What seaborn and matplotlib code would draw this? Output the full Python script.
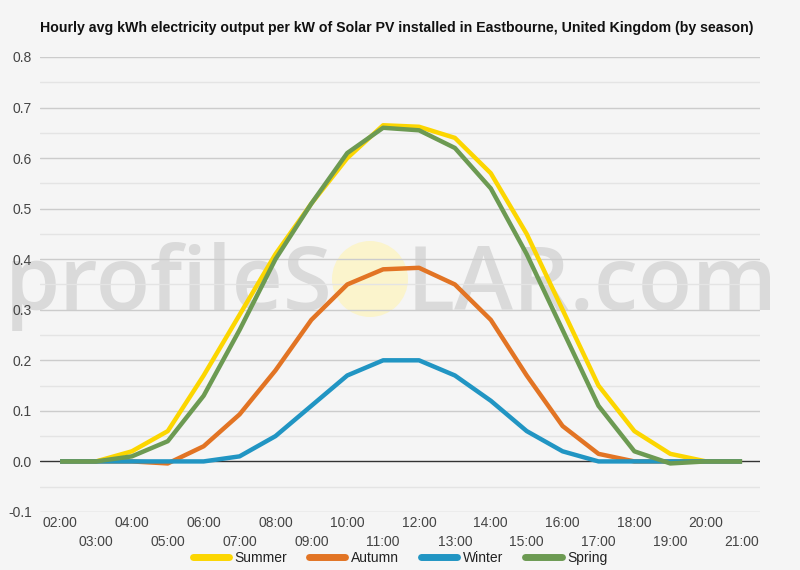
import numpy as np
import pandas as pd
import matplotlib
matplotlib.use('Agg')
import matplotlib.pyplot as plt
import seaborn as sns
from matplotlib.patches import Ellipse

hours = list(range(2, 22))
hour_labels = [f'{h:02d}:00' for h in hours]

summer = [0.0, 0.0, 0.02, 0.06, 0.17, 0.29, 0.41, 0.51, 0.60, 0.665,
          0.662, 0.64, 0.57, 0.45, 0.30, 0.15, 0.06, 0.015, 0.0, 0.0]
autumn = [0.0, 0.0, 0.0, -0.004, 0.03, 0.093, 0.18, 0.28, 0.35, 0.38,
          0.383, 0.35, 0.28, 0.17, 0.07, 0.015, 0.0, 0.0, 0.0, 0.0]
winter = [0.0, 0.0, 0.0, 0.0, 0.0, 0.01, 0.05, 0.11, 0.17, 0.20,
          0.20, 0.17, 0.12, 0.06, 0.02, 0.0, 0.0, 0.0, 0.0, 0.0]
spring = [0.0, 0.0, 0.01, 0.04, 0.13, 0.26, 0.40, 0.51, 0.61, 0.66,
          0.655, 0.62, 0.54, 0.41, 0.26, 0.11, 0.02, -0.004, 0.0, 0.0]

seasons = ['Summer', 'Autumn', 'Winter', 'Spring']
colors = {'Summer': '#fcd600', 'Autumn': '#e27424', 'Winter': '#2195c3', 'Spring': '#6c9a52'}

df = pd.DataFrame({'hour': hours * 4,
                   'kwh': summer + autumn + winter + spring,
                   'season': sum([[s] * len(hours) for s in seasons], [])})

sns.set_style('white')
plt.rcParams['font.family'] = ['Liberation Sans', 'DejaVu Sans']

BG = '#f5f5f5'
fig = plt.figure(figsize=(8, 5.7), dpi=100, facecolor=BG)
ax = fig.add_axes([0.05, 0.1018, 0.90, 0.7982])
ax.patch.set_alpha(0)
ax.set_zorder(2)

# watermark (behind the axes)
wm = dict(fontsize=64, color='#dadada', fontweight='semibold', family='Open Sans',
          va='baseline', zorder=0)
fig.text(333 / 800, 1 - 310 / 570, 'profileS', ha='right', **wm)
fig.text(407 / 800, 1 - 310 / 570, 'LAR.com', ha='left', **wm)
fig.patches.append(Ellipse((370 / 800, 1 - 279 / 570), 76 / 800, 76 / 570,
                           transform=fig.transFigure, facecolor='#fbf4cc',
                           edgecolor='none', zorder=0))

# grid
for v in np.arange(-0.1, 0.81, 0.05):
    if abs(v) < 1e-9:
        continue
    major = round(v * 20) % 2 == 0
    ax.axhline(v, color='#cccccc' if major else '#e4e4e4', lw=1, zorder=1)
ax.axhline(0, color='#333333', lw=1, zorder=2)

sns.lineplot(data=df, x='hour', y='kwh', hue='season', hue_order=seasons,
             palette=colors, linewidth=3.2, ax=ax, legend=False, zorder=3,
             solid_capstyle='butt', solid_joinstyle='round')

ax.set_xlim(1.44, 21.5)
ax.set_ylim(-0.1, 0.8)
ax.set_yticks(np.round(np.arange(-0.1, 0.81, 0.1), 1))
ax.set_yticklabels([f'{v:.1f}' for v in np.arange(-0.1, 0.81, 0.1)])
ax.set_xticks(hours[::2])
ax.set_xticklabels(hour_labels[::2])
ax.set_xticks(hours[1::2], minor=True)
ax.set_xticklabels(hour_labels[1::2], minor=True)
ax.tick_params(axis='x', which='major', length=0, pad=3, labelsize=10, labelcolor='#444444')
ax.tick_params(axis='x', which='minor', length=0, pad=16.5, labelsize=10, labelcolor='#444444')
ax.tick_params(axis='y', length=0, pad=6, labelsize=10, labelcolor='#444444')
ax.set_xlabel('')
ax.set_ylabel('')
for sp in ax.spines.values():
    sp.set_visible(False)

handles = [plt.Line2D([], [], color=colors[s], lw=5) for s in seasons]
fig.legend(handles, seasons, loc='center', bbox_to_anchor=(0.5, 0.021), ncol=4,
           frameon=False, fontsize=10, handlelength=2.6, columnspacing=1.6,
           labelcolor='#222222', handletextpad=0.4)

fig.text(0.05, 0.951, 'Hourly avg kWh electricity output per kW of Solar PV installed in '
         'Eastbourne, United Kingdom (by season)', fontsize=10.2, fontweight='bold',
         color='#111111', ha='left', va='center')

fig.savefig('out.png', dpi=100, facecolor=BG)
